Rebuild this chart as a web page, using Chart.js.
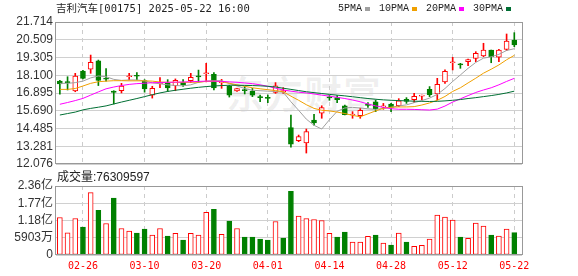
<!DOCTYPE html>
<html>
<head>
<meta charset="utf-8">
<script src="https://cdn.jsdelivr.net/npm/chart.js@4.4.1/dist/chart.umd.min.js"></script>
<style>
  body { margin: 0; background: #fff; }
  #wrap { position: relative; width: 578px; height: 276px; overflow: hidden; }
  canvas { position: absolute; left: 0; top: 0; }
  .txt { position: absolute; white-space: nowrap; color: #222; }
  #title { left: 56px; top: 2px; font: 10.5px/12px 'DejaVu Sans Mono', 'Noto Sans CJK SC', monospace; }
  #volLabel { left: 57px; top: 170px; font: 12px/14px 'Liberation Sans', 'Noto Sans CJK SC', sans-serif; }
  #watermark { left: 226px; top: 70px; font: bold 38px/44px 'Noto Sans CJK SC', sans-serif; color: rgba(0,0,0,0.06); letter-spacing: 1px; }
  .leg { position: absolute; top: 3px; font: 10px/11px 'Liberation Mono', monospace; color: #222; }
  .sq { position: absolute; top: 7px; width: 5px; height: 4px; }
</style>
</head>
<body>
<div id="wrap">
  <div id="watermark" class="txt">东方财富</div>
  <canvas id="priceChart" width="578" height="276"></canvas>
  <canvas id="volChart" width="578" height="276"></canvas>
  <div id="title" class="txt">吉利汽车[00175] 2025-05-22 16:00</div>
  <div id="legend"></div>
  <div id="volLabel" class="txt"></div>
</div>
<script>
const dates = ['02-21','02-24','02-25','02-26','02-27','02-28','03-03','03-04','03-05','03-06',
  '03-07','03-10','03-11','03-12','03-13','03-14','03-17','03-18','03-19','03-20',
  '03-21','03-24','03-25','03-26','03-27','03-28','03-31','04-01','04-02','04-03',
  '04-07','04-08','04-09','04-10','04-11','04-14','04-15','04-16','04-17','04-22',
  '04-23','04-24','04-25','04-28','04-29','04-30','05-02','05-06','05-07','05-08',
  '05-09','05-12','05-13','05-14','05-15','05-16','05-19','05-20','05-21','05-22'];
const tickDates = ['02-26','03-10','03-20','04-01','04-14','04-28','05-12','05-22'];

const openP = [17.71,17.64,17.03,18.39,18.52,19.08,17.90,17.03,17.05,18.00,
  18.08,17.73,16.75,17.52,17.58,17.40,17.62,17.73,18.04,18.20,
  18.16,17.60,17.37,17.03,17.12,17.03,16.62,16.60,16.94,16.99,
  14.54,13.66,13.50,15.06,15.52,16.60,16.58,16.03,15.40,15.36,
  16.12,16.30,15.95,16.15,16.04,16.46,16.44,16.68,17.14,16.83,
  17.64,18.95,18.84,19.02,19.25,19.41,19.81,19.32,19.86,20.49];
const highP = [17.75,18.00,18.23,18.43,19.47,19.13,18.55,17.05,17.55,18.23,
  18.28,17.80,17.35,17.95,17.80,17.85,17.80,18.23,18.45,18.91,
  18.28,17.82,17.42,17.22,17.33,17.21,16.76,16.76,17.60,17.26,
  15.40,14.04,14.45,15.45,16.03,16.72,16.72,16.08,15.63,15.86,
  16.24,16.42,16.19,16.19,16.51,16.58,16.87,16.76,17.33,17.89,
  18.46,19.32,18.91,19.20,19.70,20.27,19.81,19.86,20.90,20.99];
const lowP = [16.81,17.10,16.98,17.85,18.23,17.40,17.70,16.15,16.90,17.78,
  17.78,16.95,16.55,17.25,17.00,17.05,17.35,17.60,17.62,17.65,
  17.10,17.21,16.62,17.01,16.83,16.65,16.31,16.24,16.87,16.87,
  13.21,13.59,12.82,14.72,15.18,16.40,16.24,15.40,15.18,15.18,
  15.92,15.63,15.79,15.63,15.97,16.19,16.24,16.42,16.65,16.42,
  17.55,18.46,18.57,18.75,19.02,19.36,18.95,19.02,19.77,20.04];
const closeP = [17.51,17.60,18.05,17.89,18.98,17.75,17.84,16.94,17.37,18.05,
  18.03,17.18,17.22,17.58,17.24,17.75,17.45,17.96,17.99,18.25,
  17.24,17.66,16.74,17.19,17.05,16.74,16.58,16.52,17.39,17.03,
  13.43,13.93,14.27,14.86,15.90,16.56,16.44,15.42,15.46,15.72,
  16.06,15.82,16.00,15.92,16.37,16.33,16.67,16.72,16.78,17.48,
  18.37,19.00,18.80,19.16,19.59,19.81,19.36,19.81,20.42,20.15];
const volumes = [128300000,76000000,124900000,95300000,213400000,153200000,107800000,195200000,90800000,81700000,
  74900000,88500000,68100000,90800000,64700000,73800000,51100000,73800000,68100000,146400000,
  156600000,70400000,115800000,90800000,61300000,61300000,54500000,51100000,114600000,57900000,
  217900000,132800000,124900000,121400000,118000000,73800000,61300000,78300000,44300000,44300000,
  63600000,68100000,40900000,34100000,74900000,44300000,29500000,32900000,54500000,136200000,
  129400000,119200000,61300000,56800000,109000000,98700000,68100000,64700000,88500000,76309597];

const ma5 = [17.55,17.55,17.60,17.70,17.92,18.05,18.00,17.82,17.75,17.78,
  17.78,17.72,17.58,17.52,17.45,17.40,17.38,17.45,17.62,17.70,
  17.72,17.73,17.55,17.38,17.20,17.08,17.05,17.02,17.00,16.95,
  16.30,15.72,15.12,14.70,14.45,15.08,15.65,15.88,15.92,15.88,
  15.82,15.78,15.85,15.92,16.02,16.09,16.24,16.38,16.55,16.80,
  17.20,17.68,18.12,18.57,18.97,19.26,19.35,19.52,19.78,19.90];
const ma10 = [17.14,17.14,17.20,17.37,17.55,17.66,17.70,17.73,17.73,17.72,
  17.72,17.72,17.70,17.64,17.62,17.62,17.62,17.62,17.63,17.68,
  17.70,17.66,17.55,17.45,17.35,17.25,17.18,17.12,17.06,16.98,
  16.68,16.40,16.10,15.85,15.72,15.68,15.60,15.50,15.38,15.28,
  15.48,15.68,15.86,15.93,15.95,15.95,15.97,16.08,16.22,16.40,
  16.66,17.00,17.25,17.58,17.90,18.24,18.51,18.80,19.15,19.45];
const ma20 = [16.13,16.25,16.38,16.53,16.75,16.97,17.18,17.30,17.40,17.48,
  17.53,17.56,17.59,17.61,17.62,17.63,17.64,17.66,17.68,17.70,
  17.70,17.68,17.65,17.62,17.58,17.53,17.45,17.35,17.22,17.10,
  17.02,16.95,16.90,16.83,16.75,16.68,16.60,16.52,16.42,16.30,
  16.15,16.02,15.92,15.83,15.79,15.79,15.78,15.76,15.74,15.80,
  16.01,16.28,16.50,16.72,16.93,17.10,17.25,17.45,17.68,17.89];
const ma30 = [15.40,15.50,15.60,15.75,15.85,15.93,16.02,16.15,16.28,16.40,
  16.52,16.65,16.78,16.90,17.00,17.08,17.15,17.22,17.28,17.33,
  17.37,17.40,17.42,17.42,17.41,17.40,17.38,17.35,17.30,17.22,
  17.14,17.06,16.98,16.92,16.86,16.80,16.75,16.70,16.64,16.58,
  16.52,16.47,16.43,16.40,16.38,16.36,16.34,16.33,16.32,16.33,
  16.36,16.40,16.45,16.52,16.58,16.65,16.72,16.80,16.90,17.02];

const priceTicks = [12.076, 13.281, 14.485, 15.690, 16.895, 18.100, 19.305, 20.509, 21.714];
const volTicks = [0, 59030000, 118060000, 177090000, 236120000];
const volTickLabels = ['0', '5903万', '1.18亿', '1.77亿', '2.36亿'];
const maNames = ['5PMA', '10PMA', '20PMA', '30PMA'];

const RED = '#ff0000';
const GREEN = '#008000';
const maColors = ['#a0a0a0', '#f0a000', '#ff00ff', '#006f34'];

Chart.defaults.font.family = "'Liberation Sans', 'Noto Sans CJK SC', sans-serif";
Chart.defaults.font.size = 12;

const idx = dates.map((d, i) => i);
const tickIdx = tickDates.map(d => dates.indexOf(d));
const candleUp = closeP.map((c, i) => c >= openP[i]);
const volUp = closeP.map((c, i) => i === 0 || c >= closeP[i - 1]);

// grey frame round the plot area
const frame = {
  id: 'frame',
  afterDraw(chart) {
    const a = chart.chartArea;
    const ctx = chart.ctx;
    ctx.save();
    ctx.strokeStyle = '#999';
    ctx.lineWidth = 1;
    ctx.strokeRect(Math.round(a.left) - 0.5, Math.round(a.top) + 0.5,
      Math.round(a.right - a.left) + 1, Math.round(a.bottom - a.top) - 1);
    ctx.restore();
  }
};

function xAxis(showLabels) {
  return {
    type: 'linear',
    min: -0.5,
    max: 60,
    offset: false,
    afterBuildTicks: s => { s.ticks = tickIdx.map(v => ({ value: v })); },
    afterFit: s => { s.height = showLabels ? 21 : 0; },
    grid: { color: '#cccccc', drawTicks: false, offset: false },
    border: { display: false, dash: [4, 4] },
    ticks: {
      display: showLabels,
      autoSkip: false,
      maxRotation: 0,
      padding: 5,
      color: RED,
      font: { family: "'DejaVu Sans Mono', monospace", size: 10 },
      callback: v => dates[v]
    }
  };
}

function baseOptions(padding) {
  return {
    responsive: false,
    animation: false,
    events: [],
    layout: { padding: padding },
    plugins: { legend: { display: false }, tooltip: { enabled: false } }
  };
}

function maLine(values, color) {
  return {
    type: 'line',
    order: 1,
    data: idx.map(i => ({ x: i, y: values[i] })),
    borderColor: color,
    borderWidth: 1,
    pointRadius: 0,
    fill: false,
    tension: 0
  };
}

const priceOptions = baseOptions({ left: 0, right: 56, top: 22, bottom: 112 });
priceOptions.scales = {
  x: xAxis(false),
  y: {
    min: priceTicks[0],
    max: priceTicks[priceTicks.length - 1],
    afterBuildTicks: s => { s.ticks = priceTicks.map(v => ({ value: v })); },
    afterFit: s => { s.width = 56; },
    grid: { color: '#d0d0d0', drawTicks: false },
    border: { display: false },
    ticks: { color: '#333', padding: 3, autoSkip: false, callback: v => v.toFixed(3) }
  }
};

new Chart(document.getElementById('priceChart'), {
  type: 'bar',
  data: {
    datasets: [
      {
        type: 'bar',
        order: 3,
        grouped: false,
        barThickness: 1,
        data: idx.map(i => ({ x: i, y: [lowP[i], highP[i]] })),
        backgroundColor: candleUp.map(u => u ? RED : GREEN),
        borderWidth: 0
      },
      {
        type: 'bar',
        order: 2,
        grouped: false,
        barThickness: 5,
        minBarLength: 1,
        data: idx.map(i => ({ x: i, y: [openP[i], closeP[i]] })),
        backgroundColor: candleUp.map(u => u ? '#ffffff' : GREEN),
        borderColor: candleUp.map(u => u ? RED : GREEN),
        borderWidth: 1,
        borderSkipped: false
      },
      maLine(ma30, maColors[3]),
      maLine(ma20, maColors[2]),
      maLine(ma10, maColors[1]),
      maLine(ma5, maColors[0])
    ]
  },
  options: priceOptions,
  plugins: [frame]
});

const volOptions = baseOptions({ left: 0, right: 56, top: 186, bottom: 0 });
volOptions.scales = {
  x: xAxis(true),
  y: {
    min: 0,
    max: volTicks[volTicks.length - 1],
    afterBuildTicks: s => { s.ticks = volTicks.map(v => ({ value: v })); },
    afterFit: s => { s.width = 56; },
    grid: { color: '#d0d0d0', drawTicks: false },
    border: { display: false },
    ticks: { color: '#333', padding: 3, autoSkip: false, callback: (v, i) => volTickLabels[i] }
  }
};

new Chart(document.getElementById('volChart'), {
  type: 'bar',
  data: {
    datasets: [{
      grouped: false,
      barThickness: 5,
      data: idx.map(i => ({ x: i, y: volumes[i] })),
      backgroundColor: volUp.map(u => u ? '#ffffff' : GREEN),
      borderColor: volUp.map(u => u ? RED : GREEN),
      borderWidth: 1,
      borderSkipped: false
    }]
  },
  options: volOptions,
  plugins: [frame]
});

document.getElementById('volLabel').textContent = '成交量:' + volumes[volumes.length - 1];

// legend: name then a small colour block
const legend = document.getElementById('legend');
let left = 338;
maNames.forEach((name, i) => {
  const t = document.createElement('span');
  t.className = 'leg';
  t.style.left = left + 'px';
  t.textContent = name;
  legend.appendChild(t);
  left += name.length * 6 + 3;
  const sq = document.createElement('span');
  sq.className = 'sq';
  sq.style.left = left + 'px';
  sq.style.background = maColors[i];
  legend.appendChild(sq);
  left += 5 + 9;
});
</script>
</body>
</html>
